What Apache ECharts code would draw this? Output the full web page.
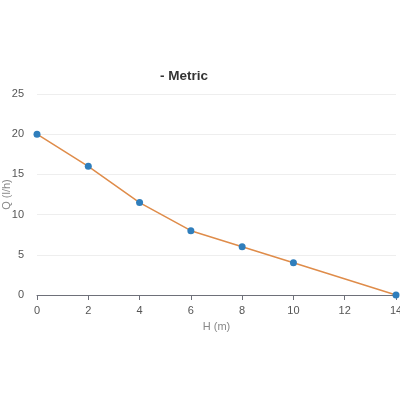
<!DOCTYPE html>
<html>
<head>
<meta charset="utf-8">
<script src="https://cdn.jsdelivr.net/npm/echarts@6/dist/echarts.min.js"></script>
<style>
  html, body { margin: 0; padding: 0; background: #fff; }
  #chart { width: 400px; height: 400px; }
</style>
</head>
<body>
<div id="chart"></div>
<script>
// 数据
const heads = [0, 2, 4, 6, 8, 10, 14]
const flows = [20, 16, 11.5, 8, 6, 4, 0]

const chart = echarts.init(document.getElementById('chart'))

const option = {
  animation: false,
  textStyle: { fontFamily: 'Liberation Sans, Arial, sans-serif' },
  title: {
    text: '- Metric',
    left: 155,
    top: 64,
    textStyle: { fontSize: 13.5, fontWeight: 'bold', color: '#333' }
  },
  grid: { left: 37, right: 4, top: 94, bottom: 105, outerBoundsMode: 'none', containLabel: false },
  xAxis: {
    type: 'value',
    min: 0,
    max: 14,
    interval: 2,
    name: 'H (m)',
    nameLocation: 'middle',
    nameGap: 26,
    nameMoveOverlap: false,
    nameTextStyle: { color: '#888', fontSize: 11 },
    axisLine: { lineStyle: { color: '#6E7079' } },
    axisTick: { show: true },
    axisLabel: { color: '#555', fontSize: 11, margin: 10 },
    splitLine: { show: false }
  },
  yAxis: {
    type: 'value',
    min: 0,
    max: 25,
    interval: 5,
    name: 'Q (l/h)',
    nameLocation: 'middle',
    nameGap: 25,
    nameMoveOverlap: false,
    nameTextStyle: { color: '#888', fontSize: 11 },
    axisLine: { show: false },
    axisTick: { show: false },
    axisLabel: { color: '#555', fontSize: 11, margin: 13 },
    splitLine: { lineStyle: { color: '#eee' } }
  },
  series: [
    {
      type: 'line',
      data: heads.map((h, i) => [h, flows[i]]),
      symbol: 'circle',
      symbolSize: 7,
      itemStyle: { color: '#2f7ebc' },
      lineStyle: { color: '#df8c4a', width: 1.5 }
    }
  ]
}

chart.setOption(option)
</script>
</body>
</html>
